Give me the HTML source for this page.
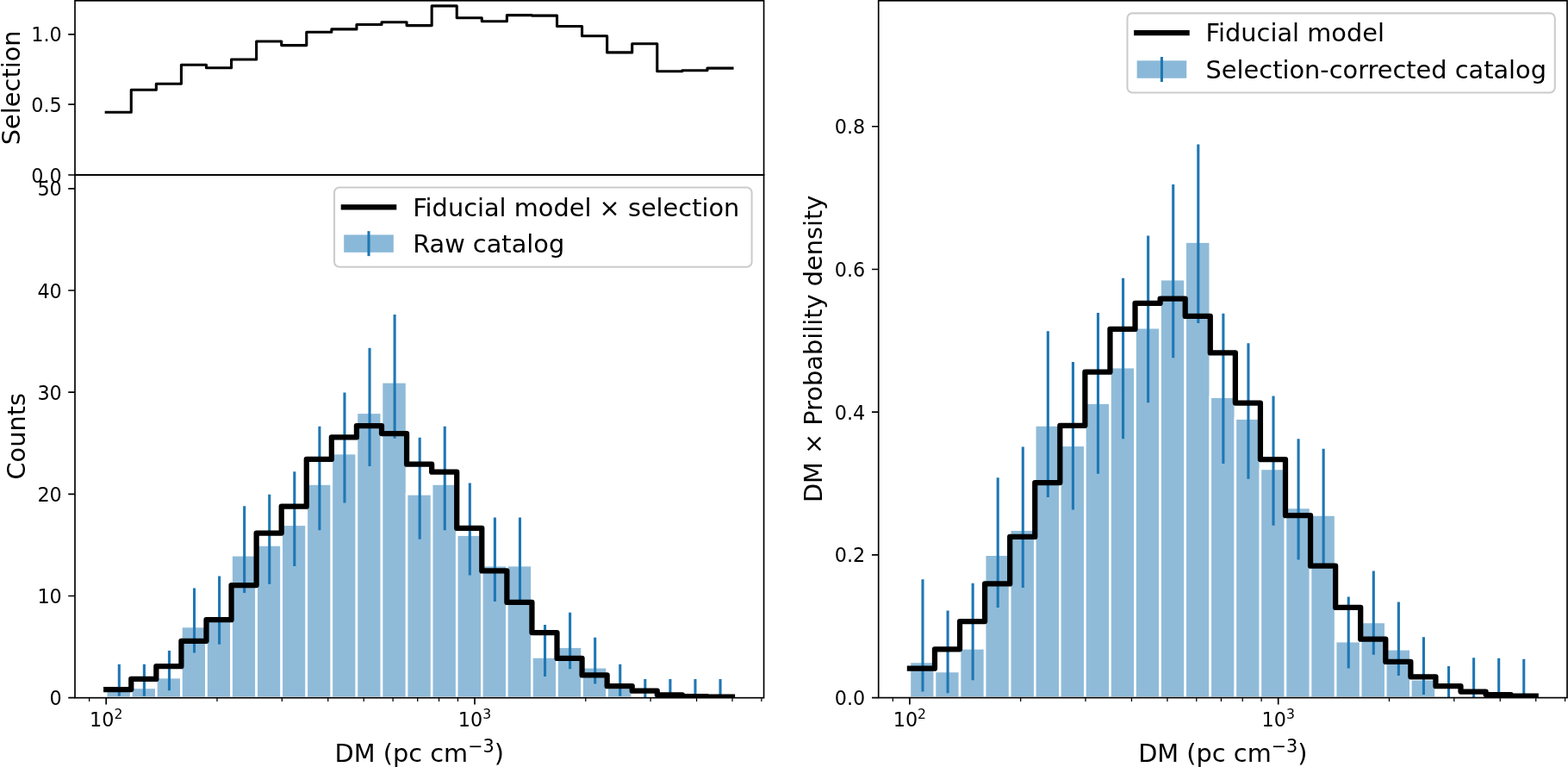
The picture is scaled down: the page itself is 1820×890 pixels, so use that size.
<!DOCTYPE html><html><head><meta charset="utf-8"><title>DM distribution</title><style>html,body{margin:0;padding:0;background:#fff;overflow:hidden}svg{display:block}</style></head><body><svg width="1820" height="890" viewBox="0 0 1820 890"><rect width="1820" height="890" fill="#fff"/><defs><clipPath id="cbl"><rect x="87" y="203" width="799.6" height="606.7"/></clipPath><clipPath id="ctop"><rect x="87" y="0" width="799.6" height="203"/></clipPath><clipPath id="cr"><rect x="1019.7" y="0" width="799.3" height="809.6"/></clipPath></defs><g clip-path="url(#cbl)"><g fill="rgba(31,119,180,0.5)" stroke="#fff" stroke-width="2.6"><rect x="123.2" y="797.88" width="29.07" height="11.82"/><rect x="152.27" y="797.88" width="29.07" height="11.82"/><rect x="181.35" y="786.06" width="29.07" height="23.64"/><rect x="210.42" y="726.97" width="29.07" height="82.73"/><rect x="239.49" y="715.16" width="29.07" height="94.54"/><rect x="268.56" y="644.25" width="29.07" height="165.45"/><rect x="297.64" y="632.43" width="29.07" height="177.27"/><rect x="326.71" y="608.79" width="29.07" height="200.91"/><rect x="355.78" y="561.52" width="29.07" height="248.18"/><rect x="384.85" y="526.07" width="29.07" height="283.63"/><rect x="413.93" y="478.8" width="29.07" height="330.9"/><rect x="443" y="443.34" width="29.07" height="366.36"/><rect x="472.07" y="573.34" width="29.07" height="236.36"/><rect x="501.15" y="561.52" width="29.07" height="248.18"/><rect x="530.22" y="620.61" width="29.07" height="189.09"/><rect x="559.29" y="656.07" width="29.07" height="153.63"/><rect x="588.36" y="656.07" width="29.07" height="153.63"/><rect x="617.44" y="762.43" width="29.07" height="47.27"/><rect x="646.51" y="750.61" width="29.07" height="59.09"/><rect x="675.58" y="774.25" width="29.07" height="35.45"/><rect x="704.66" y="797.88" width="29.07" height="11.82"/></g><path d="M138.3,807.66V770.71M167.38,807.66V770.71M196.45,801.33V754.89M225.52,757.48V682.42M254.6,747.87V668.53M283.67,687.93V587.16M312.74,677.69V573.83M341.81,657.04V547.3M370.89,615.24V494.69M399.96,583.56V455.55M429.03,540.96V403.7M458.1,508.78V365.02M487.18,625.75V507.79M516.25,615.24V494.69M545.32,667.39V560.54M574.4,698.12V600.55M603.47,698.12V600.55M632.54,785.05V725.05M661.61,776.13V710.64M690.69,793.54V739.76M719.76,807.66V770.71M748.83,809.7V787.94M777.91,809.7V787.94M806.98,809.7V787.94M836.05,809.7V787.94" stroke="#1f77b4" stroke-width="3.1" fill="none"/><path d="M123.2,800.08H152.27V787.98H181.35V773.13H210.42V743.77H239.49V719.15H268.56V679.08H297.64V618.52H326.71V587.72H355.78V532.89H384.85V507.39H413.93V494.12H443V503.11H472.07V538.65H501.15V547.65H530.22V612.92H559.29V662.47H588.36V698.97H617.44V734.08H646.51V763.95H675.58V783.43H704.66V796.21H733.73V801.73H762.8V806.37H791.87V808.04H820.95V808.73H850.02" stroke="#000" stroke-width="6.25" fill="none" stroke-linejoin="round" stroke-linecap="square"/></g><path clip-path="url(#ctop)" d="M123.2,130.3H152.27V104.2H181.35V97.3H210.42V75.3H239.49V78.8H268.56V69H297.64V48H326.71V52.6H355.78V37.3H384.85V33.9H413.93V28.5H443V25.7H472.07V29.6H501.15V6.9H530.22V20.8H559.29V24.7H588.36V17.6H617.44V18.1H646.51V30.5H675.58V41.7H704.66V60.9H733.73V50.7H762.8V82.8H791.87V81.8H820.95V79.1H850.02" stroke="#000" stroke-width="3.1" fill="none" stroke-linejoin="round" stroke-linecap="square"/><g clip-path="url(#cr)"><g fill="rgba(31,119,180,0.5)" stroke="#fff" stroke-width="2.6"><rect x="1055.9" y="767.95" width="29.07" height="41.65"/><rect x="1084.97" y="778.96" width="29.07" height="30.64"/><rect x="1114.05" y="752.33" width="29.07" height="57.27"/><rect x="1143.12" y="643.71" width="29.07" height="165.89"/><rect x="1172.19" y="614.67" width="29.07" height="194.93"/><rect x="1201.26" y="493.44" width="29.07" height="316.16"/><rect x="1230.34" y="516.78" width="29.07" height="292.82"/><rect x="1259.41" y="467.58" width="29.07" height="342.02"/><rect x="1288.48" y="426.14" width="29.07" height="383.46"/><rect x="1317.55" y="380.17" width="29.07" height="429.43"/><rect x="1346.63" y="324.12" width="29.07" height="485.48"/><rect x="1375.7" y="280.59" width="29.07" height="529.01"/><rect x="1404.77" y="460.62" width="29.07" height="348.98"/><rect x="1433.85" y="485.61" width="29.07" height="323.99"/><rect x="1462.92" y="543.91" width="29.07" height="265.69"/><rect x="1491.99" y="589" width="29.07" height="220.6"/><rect x="1521.06" y="597.46" width="29.07" height="212.14"/><rect x="1550.14" y="744.15" width="29.07" height="65.45"/><rect x="1579.21" y="721.9" width="29.07" height="87.7"/><rect x="1608.28" y="753.32" width="29.07" height="56.28"/><rect x="1637.36" y="788.31" width="29.07" height="21.29"/></g><path d="M1071,802.4V672.17M1100.08,804.31V708.51M1129.15,789.32V676.79M1158.22,704.89V554.37M1187.3,682.12V518.54M1216.37,576.92V384.35M1245.44,591.53V419.98M1274.51,549.71V362.89M1303.59,509.14V322.87M1332.66,467.22V273.41M1361.73,415.31V213.94M1390.8,375.09V167.49M1419.88,538V363.84M1448.95,555.75V398.37M1478.02,609.63V459.5M1507.1,649.39V509.29M1536.17,655.53V520.8M1565.24,775.47V692.4M1594.31,759.78V662.57M1623.39,783.95V698.58M1652.46,805.92V739.34M1681.53,809.6V773.02M1710.61,809.6V763.25M1739.68,809.6V763.63M1768.75,809.6V764.63" stroke="#1f77b4" stroke-width="3.1" fill="none"/><path d="M1055.9,775.7H1084.97V753.3H1114.05V721H1143.12V677.4H1172.19V622.9H1201.26V560H1230.34V493.8H1259.41V431.7H1288.48V381.9H1317.55V351.9H1346.63V346.6H1375.7V366.9H1404.77V409.4H1433.85V467.5H1462.92V533.1H1491.99V598.2H1521.06V656.7H1550.14V704.9H1579.21V741.7H1608.28V767.9H1637.36V785.3H1666.43V796.2H1695.5V802.5H1724.57V806.1H1753.65V807.6H1782.72" stroke="#000" stroke-width="6.25" fill="none" stroke-linejoin="round" stroke-linecap="square"/></g><rect x="87" y="0.8" width="799.6" height="202.2" fill="none" stroke="#000" stroke-width="1.67" stroke-linejoin="miter"/><rect x="87" y="203" width="799.6" height="606.7" fill="none" stroke="#000" stroke-width="1.67" stroke-linejoin="miter"/><rect x="1019.7" y="0.8" width="799.3" height="808.8" fill="none" stroke="#000" stroke-width="1.67" stroke-linejoin="miter"/><path d="M87,203H79.25M87,121.1H79.25M87,39.83H79.25M87,809.7H79.25M87,691.52H79.25M87,573.34H79.25M87,455.16H79.25M87,336.98H79.25M87,218.8H79.25M1019.7,809.6H1011.95M1019.7,643.89H1011.95M1019.7,478.18H1011.95M1019.7,312.46H1011.95M1019.7,146.75H1011.95M123.2,809.7V817.45M551,809.7V817.45M1055.9,809.7V817.45M1483.7,809.7V817.45" stroke="#000" stroke-width="1.67" fill="none"/><path d="M103.62,809.7V814M251.98,809.7V814M327.31,809.7V814M380.76,809.7V814M422.22,809.7V814M456.09,809.7V814M484.73,809.7V814M509.54,809.7V814M531.42,809.7V814M679.78,809.7V814M755.11,809.7V814M808.56,809.7V814M850.02,809.7V814M883.89,809.7V814M1036.32,809.7V814M1184.68,809.7V814M1260.01,809.7V814M1313.46,809.7V814M1354.92,809.7V814M1388.79,809.7V814M1417.43,809.7V814M1442.24,809.7V814M1464.12,809.7V814M1612.48,809.7V814M1687.81,809.7V814M1741.26,809.7V814M1782.72,809.7V814M1816.59,809.7V814" stroke="#000" stroke-width="1.25" fill="none"/><g font-family="DejaVu Sans, sans-serif" fill="#000"><text x="71.8" y="211.6" text-anchor="end" font-size="22.3">0.0</text><text x="71.8" y="129.7" text-anchor="end" font-size="22.3">0.5</text><text x="71.8" y="48.43" text-anchor="end" font-size="22.3">1.0</text><text x="71.8" y="818.3" text-anchor="end" font-size="22.3">0</text><text x="71.8" y="700.12" text-anchor="end" font-size="22.3">10</text><text x="71.8" y="581.94" text-anchor="end" font-size="22.3">20</text><text x="71.8" y="463.76" text-anchor="end" font-size="22.3">30</text><text x="71.8" y="345.58" text-anchor="end" font-size="22.3">40</text><text x="71.8" y="227.4" text-anchor="end" font-size="22.3">50</text><text x="1004.2" y="818.2" text-anchor="end" font-size="22.3">0.0</text><text x="1004.2" y="652.49" text-anchor="end" font-size="22.3">0.2</text><text x="1004.2" y="486.78" text-anchor="end" font-size="22.3">0.4</text><text x="1004.2" y="321.06" text-anchor="end" font-size="22.3">0.6</text><text x="1004.2" y="155.35" text-anchor="end" font-size="22.3">0.8</text><text x="123.2" y="842.5" text-anchor="middle" font-size="22.3">10<tspan dy="-8.3" font-size="15.61">2</tspan></text><text x="551" y="842.5" text-anchor="middle" font-size="22.3">10<tspan dy="-8.3" font-size="15.61">3</tspan></text><text x="1055.9" y="842.5" text-anchor="middle" font-size="22.3">10<tspan dy="-8.3" font-size="15.61">2</tspan></text><text x="1483.7" y="842.5" text-anchor="middle" font-size="22.3">10<tspan dy="-8.3" font-size="15.61">3</tspan></text><text x="486.8" y="884.0" text-anchor="middle" font-size="28.8">DM (pc cm<tspan dy="-11" font-size="20.74">−3</tspan><tspan dy="11">)</tspan></text><text x="1419.35" y="884.0" text-anchor="middle" font-size="28.8">DM (pc cm<tspan dy="-11" font-size="20.74">−3</tspan><tspan dy="11">)</tspan></text><text transform="translate(23,101.8) rotate(-90)" text-anchor="middle" font-size="28.8">Selection</text><text transform="translate(29.4,506.3) rotate(-90)" text-anchor="middle" font-size="28.8">Counts</text><text transform="translate(953.9,404.9) rotate(-90)" text-anchor="middle" font-size="28.8">DM × Probability density</text></g><g font-family="DejaVu Sans, sans-serif"><rect x="388.05" y="217.5" width="484.55" height="92.3" rx="5.8" ry="5.8" fill="rgba(255,255,255,0.8)" stroke="#cccccc" stroke-width="2.08"/><path d="M398.85,240.3H457.15" stroke="#000" stroke-width="6.25" stroke-linecap="square"/><rect x="399.2" y="272.45" width="57.6" height="20.4" fill="rgba(31,119,180,0.52)"/><path d="M428,268.15V297.15" stroke="#1f77b4" stroke-width="3.1"/><text x="479.15" y="250.5" font-size="28.8">Fiducial model × selection</text><text x="479.15" y="292.6" font-size="28.8">Raw catalog</text></g><g font-family="DejaVu Sans, sans-serif"><rect x="1308.5" y="15.4" width="496.3" height="92.1" rx="5.8" ry="5.8" fill="rgba(255,255,255,0.8)" stroke="#cccccc" stroke-width="2.08"/><path d="M1319.3,38.2H1377.6" stroke="#000" stroke-width="6.25" stroke-linecap="square"/><rect x="1319.65" y="70.35" width="57.6" height="20.4" fill="rgba(31,119,180,0.52)"/><path d="M1348.45,66.05V95.05" stroke="#1f77b4" stroke-width="3.1"/><text x="1399.6" y="48.4" font-size="28.8">Fiducial model</text><text x="1399.6" y="90.5" font-size="28.8">Selection-corrected catalog</text></g></svg></body></html>
